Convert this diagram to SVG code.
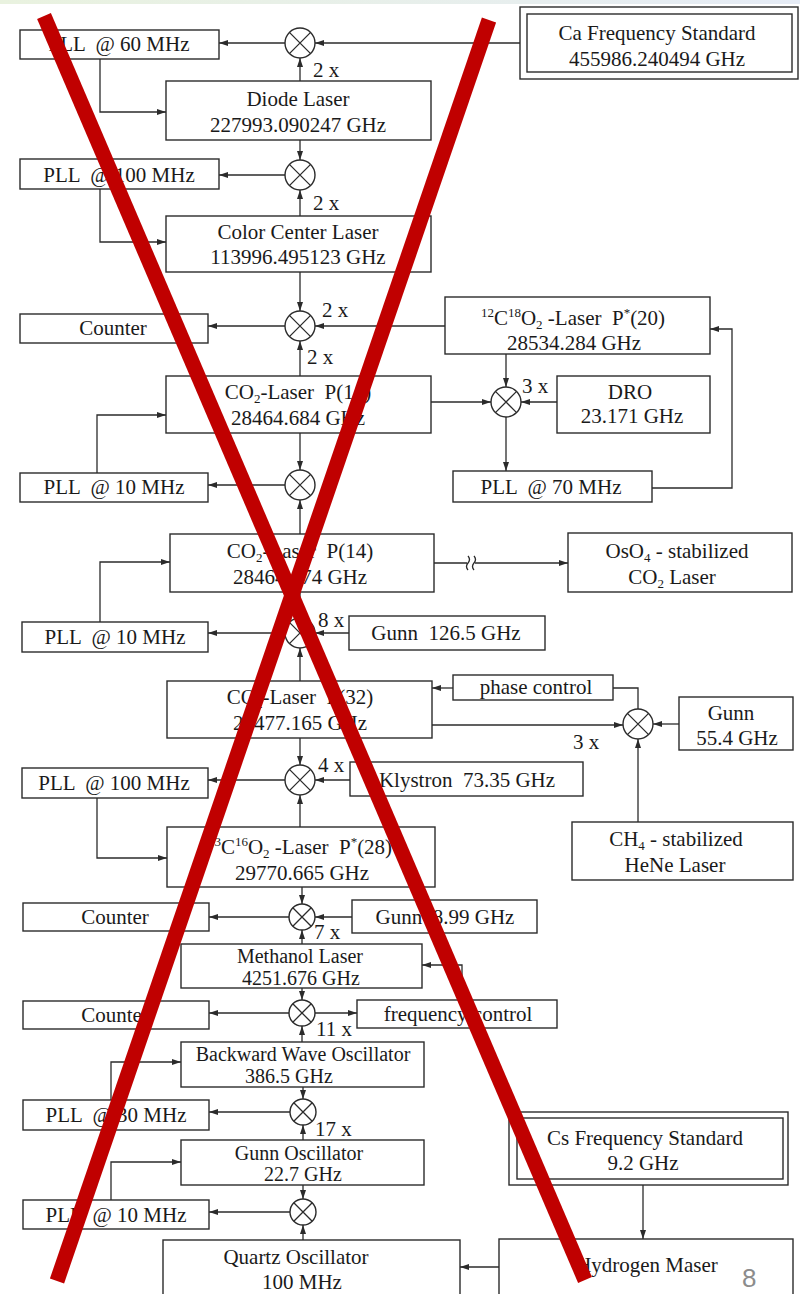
<svg xmlns="http://www.w3.org/2000/svg" width="800" height="1294" viewBox="0 0 800 1294" xml:space="preserve">
<style>
.box{fill:#fff;stroke:#2b2b2b;stroke-width:1.4}
.ln{fill:none;stroke:#2b2b2b;stroke-width:1.3}
.arr{marker-end:url(#ah)}
text{font-family:"Liberation Serif","Times New Roman",serif;font-size:21px;fill:#1a1a1a;white-space:pre}
.t{text-anchor:middle}
.c{font-size:20px}
.sm{font-size:13px}
.red{stroke:#c00000;stroke-width:15;fill:none}
.pg{font-family:"Liberation Sans","Noto Sans",sans-serif;font-size:26px;fill:#8c8c8c}
</style>
<defs>
<marker id="ah" markerUnits="userSpaceOnUse" markerWidth="9" markerHeight="6" refX="9" refY="3" orient="auto">
<path d="M0,0 L9,3 L0,6 z" fill="#2b2b2b"/>
</marker>
<g id="mixL"><circle r="15" fill="#fff" stroke="#2b2b2b" stroke-width="1.4"/><path d="M-10.6,-10.6L10.6,10.6M10.6,-10.6L-10.6,10.6" stroke="#2b2b2b" stroke-width="1.3"/></g>
<g id="mixS"><circle r="13" fill="#fff" stroke="#2b2b2b" stroke-width="1.4"/><path d="M-9.2,-9.2L9.2,9.2M9.2,-9.2L-9.2,9.2" stroke="#2b2b2b" stroke-width="1.3"/></g>
<linearGradient id="topg" x1="0" x2="1" y1="0" y2="0"><stop offset="0" stop-color="#e9f2df"/><stop offset="1" stop-color="#e6ecf6"/></linearGradient>
</defs>
<rect width="800" height="1294" fill="#fff"/>
<rect width="800" height="4" fill="url(#topg)"/>

<g id="connectors">
<path class="ln arr" d="M520,43 H315"/>
<path class="ln arr" d="M285,43 H219"/>
<path class="ln arr" d="M300,81 V58"/>
<path class="ln arr" d="M100,59 V112 H166"/>
<path class="ln arr" d="M300,140 V160"/>
<path class="ln arr" d="M285,175 H219"/>
<path class="ln arr" d="M300,216 V190"/>
<path class="ln arr" d="M100,189 V242 H166"/>
<path class="ln arr" d="M300,272 V311"/>
<path class="ln arr" d="M445,326 H315"/>
<path class="ln arr" d="M285,326 H208"/>
<path class="ln arr" d="M300,376 V341"/>
<path class="ln arr" d="M97,473 V415 H166"/>
<path class="ln arr" d="M300,433 V470"/>
<path class="ln arr" d="M285,485 H208"/>
<path class="ln arr" d="M300,534 V500"/>
<path class="ln arr" d="M431,402 H491"/>
<path class="ln arr" d="M506,354 V387"/>
<path class="ln arr" d="M557,402 H521"/>
<path class="ln arr" d="M506,417 V471"/>
<path class="ln arr" d="M652,488 H732 V329 H710"/>
<path class="ln" d="M434,563 H467 M468,556 q3,3.5 0,7 q-3,3.5 0,7 M474,556 q3,3.5 0,7 q-3,3.5 0,7"/>
<path class="ln arr" d="M475,563 H568"/>
<path class="ln arr" d="M100,622 V562 H170"/>
<path class="ln arr" d="M300,592 V618"/>
<path class="ln arr" d="M285,633 H208"/>
<path class="ln arr" d="M349,633 H315"/>
<path class="ln arr" d="M300,681 V648"/>
<path class="ln arr" d="M453,688 H432"/>
<path class="ln" d="M638,709 V688 H613"/>
<path class="ln arr" d="M432,725 H623"/>
<path class="ln arr" d="M679,724 H653"/>
<path class="ln arr" d="M638,822 V739"/>
<path class="ln arr" d="M300,738 V765"/>
<path class="ln arr" d="M350,780 H315"/>
<path class="ln arr" d="M285,780 H208"/>
<path class="ln arr" d="M97,798 V858 H167"/>
<path class="ln arr" d="M300,827 V795"/>
<path class="ln arr" d="M302,887 V904"/>
<path class="ln arr" d="M289,917 H209"/>
<path class="ln arr" d="M352,917 H315"/>
<path class="ln arr" d="M302,944 V930"/>
<path class="ln arr" d="M462,977 V965 H422"/>
<path class="ln arr" d="M302,988 V1000"/>
<path class="ln arr" d="M289,1013 H209"/>
<path class="ln arr" d="M315,1013 H357"/>
<path class="ln arr" d="M302,1042 V1026"/>
<path class="ln arr" d="M111,1100 V1062 H181"/>
<path class="ln arr" d="M303,1087 V1099"/>
<path class="ln arr" d="M290,1112 H209"/>
<path class="ln arr" d="M303,1140 V1125"/>
<path class="ln arr" d="M111,1200 V1162 H181"/>
<path class="ln arr" d="M303,1185 V1199"/>
<path class="ln arr" d="M290,1212 H209"/>
<path class="ln arr" d="M303,1240 V1225"/>
<path class="ln arr" d="M643,1185 V1239"/>
<path class="ln arr" d="M499,1267 H460"/>
</g>

<g id="labels">
<text x="313" y="77">2 x</text>
<text x="313" y="210">2 x</text>
<text x="322" y="317">2 x</text>
<text x="307" y="364">2 x</text>
<text x="522" y="393">3 x</text>
<text x="318" y="627">8 x</text>
<text x="573" y="749">3 x</text>
<text x="318" y="772">4 x</text>
<text x="314" y="939">7 x</text>
<text x="316" y="1036">11 x</text>
<text x="315" y="1136">17 x</text>
</g>

<g id="ca-standard"><rect class="box" x="520" y="7" width="278" height="72"/><rect class="box" x="527" y="14" width="265" height="58"/><text class="t" x="657" y="40">Ca Frequency Standard</text><text class="t" x="657" y="66">455986.240494 GHz</text></g>
<g id="mixer1"><use href="#mixL" x="300" y="43"/></g>
<g id="pll-60"><rect class="box" x="20" y="30" width="199" height="29"/><text class="t" x="119" y="51">PLL  @ 60 MHz</text></g>
<g id="diode-laser"><rect class="box" x="166" y="81" width="265" height="59"/><text class="t" x="298" y="106">Diode Laser</text><text class="t" x="298" y="132">227993.090247 GHz</text></g>
<g id="mixer2"><use href="#mixL" x="300" y="175"/></g>
<g id="pll-100a"><rect class="box" x="20" y="159" width="199" height="30"/><text class="t" x="119" y="182">PLL  @ 100 MHz</text></g>
<g id="color-center"><rect class="box" x="166" y="216" width="265" height="56"/><text class="t" x="298" y="239">Color Center Laser</text><text class="t" x="298" y="264">113996.495123 GHz</text></g>
<g id="mixer3"><use href="#mixL" x="300" y="326"/></g>
<g id="counter1"><rect class="box" x="20" y="314" width="188" height="29"/><text class="t" x="113" y="335">Counter</text></g>
<g id="co2-a"><rect class="box" x="166" y="376" width="265" height="57"/><text class="t" x="298" y="399">CO<tspan class="sm" dy="4">2</tspan><tspan dy="-4">-Laser  P(14)</tspan></text><text class="t" x="298" y="425">28464.684 GHz</text></g>
<g id="pll-10a"><rect class="box" x="20" y="473" width="188" height="29"/><text class="t" x="114" y="494">PLL  @ 10 MHz</text></g>
<g id="mixer4"><use href="#mixL" x="300" y="485"/></g>
<g id="c12o18-laser"><rect class="box" x="445" y="297" width="265" height="57"/><text class="t" x="573" y="325"><tspan class="sm" dy="-8">12</tspan><tspan dy="8">C</tspan><tspan class="sm" dy="-8">18</tspan><tspan dy="8">O</tspan><tspan class="sm" dy="4">2</tspan><tspan dy="-4"> -Laser  P</tspan><tspan class="sm" dy="-8">*</tspan><tspan dy="8">(20)</tspan></text><text class="t" x="574" y="350">28534.284 GHz</text></g>
<g id="mixer5"><use href="#mixL" x="506" y="402"/></g>
<g id="dro"><rect class="box" x="557" y="376" width="153" height="57"/><text class="t" x="630" y="399">DRO</text><text class="t" x="632" y="423">23.171 GHz</text></g>
<g id="pll-70"><rect class="box" x="453" y="471" width="199" height="31"/><text class="t" x="551" y="494">PLL  @ 70 MHz</text></g>
<g id="co2-b"><rect class="box" x="170" y="534" width="264" height="58"/><text class="t" x="300" y="558">CO<tspan class="sm" dy="4">2</tspan><tspan dy="-4">-Laser  P(14)</tspan></text><text class="t" x="300" y="584">28464.674 GHz</text></g>
<g id="oso4"><rect class="box" x="568" y="533" width="224" height="59"/><text class="t" x="677" y="558">OsO<tspan class="sm" dy="4">4</tspan><tspan dy="-4"> - stabilized</tspan></text><text class="t" x="672" y="584">CO<tspan class="sm" dy="4">2</tspan><tspan dy="-4"> Laser</tspan></text></g>
<g id="pll-10b"><rect class="box" x="22" y="622" width="186" height="30"/><text class="t" x="115" y="644">PLL  @ 10 MHz</text></g>
<g id="mixer6"><use href="#mixL" x="300" y="633"/></g>
<g id="gunn-126"><rect class="box" x="349" y="616" width="196" height="34"/><text class="t" x="446" y="640">Gunn  126.5 GHz</text></g>
<g id="co2-p32"><rect class="box" x="167" y="681" width="265" height="57"/><text class="t" x="300" y="704">CO<tspan class="sm" dy="4">2</tspan><tspan dy="-4">-Laser  P(32)</tspan></text><text class="t" x="300" y="730">29477.165 GHz</text></g>
<g id="phase-control"><rect class="box" x="453" y="675" width="160" height="25"/><text class="t" x="536" y="694">phase control</text></g>
<g id="mixer7"><use href="#mixL" x="638" y="724"/></g>
<g id="gunn-55"><rect class="box" x="679" y="697" width="114" height="53"/><text class="t" x="731" y="720">Gunn</text><text class="t" x="737" y="745">55.4 GHz</text></g>
<g id="ch4-hene"><rect class="box" x="572" y="822" width="221" height="58"/><text class="t" x="676" y="846">CH<tspan class="sm" dy="4">4</tspan><tspan dy="-4"> - stabilized</tspan></text><text class="t" x="675" y="872">HeNe Laser</text></g>
<g id="mixer8"><use href="#mixL" x="300" y="780"/></g>
<g id="klystron"><rect class="box" x="350" y="762" width="233" height="34"/><text class="t" x="467" y="787">Klystron  73.35 GHz</text></g>
<g id="pll-100b"><rect class="box" x="22" y="768" width="186" height="30"/><text class="t" x="114" y="790">PLL  @ 100 MHz</text></g>
<g id="c13o16-laser"><rect class="box" x="167" y="827" width="268" height="60"/><text class="t" x="300" y="854"><tspan class="sm" dy="-8">13</tspan><tspan dy="8">C</tspan><tspan class="sm" dy="-8">16</tspan><tspan dy="8">O</tspan><tspan class="sm" dy="4">2</tspan><tspan dy="-4"> -Laser  P</tspan><tspan class="sm" dy="-8">*</tspan><tspan dy="8">(28)</tspan></text><text class="t" x="302" y="880">29770.665 GHz</text></g>
<g id="mixer9"><use href="#mixS" x="302" y="917"/></g>
<g id="counter2"><rect class="box" x="23" y="903" width="186" height="28"/><text class="t" x="115" y="924">Counter</text></g>
<g id="gunn-899"><rect class="box" x="352" y="900" width="185" height="33"/><text class="t" x="445" y="924">Gunn  8.99 GHz</text></g>
<g id="methanol"><rect class="box" x="181" y="944" width="241" height="44"/><text class="t c" x="300" y="963">Methanol Laser</text><text class="t c" x="301" y="985">4251.676 GHz</text></g>
<g id="mixer10"><use href="#mixS" x="302" y="1013"/></g>
<g id="counter3"><rect class="box" x="23" y="1001" width="186" height="28"/><text class="t" x="115" y="1022">Counter</text></g>
<g id="frequency-control"><rect class="box" x="357" y="1000" width="200" height="28"/><text class="t" x="458" y="1021">frequency control</text></g>
<g id="bwo"><rect class="box" x="181" y="1042" width="243" height="45"/><text class="t c" x="303" y="1061">Backward Wave Oscillator</text><text class="t c" x="289" y="1083">386.5 GHz</text></g>
<g id="mixer11"><use href="#mixS" x="303" y="1112"/></g>
<g id="pll-30"><rect class="box" x="23" y="1100" width="186" height="30"/><text class="t" x="116" y="1122">PLL  @ 30 MHz</text></g>
<g id="gunn-osc"><rect class="box" x="181" y="1140" width="243" height="45"/><text class="t c" x="299" y="1160">Gunn Oscillator</text><text class="t c" x="303" y="1181">22.7 GHz</text></g>
<g id="pll-10c"><rect class="box" x="23" y="1200" width="186" height="29"/><text class="t" x="116" y="1222">PLL  @ 10 MHz</text></g>
<g id="mixer12"><use href="#mixS" x="303" y="1212"/></g>
<g id="quartz"><rect class="box" x="163" y="1240" width="297" height="62"/><text class="t" x="296" y="1264">Quartz Oscillator</text><text class="t" x="302" y="1289">100 MHz</text></g>
<g id="cs-standard"><rect class="box" x="509" y="1112" width="279" height="73"/><rect class="box" x="517" y="1118" width="266" height="61"/><text class="t" x="645" y="1145">Cs Frequency Standard</text><text class="t" x="643" y="1170">9.2 GHz</text></g>
<g id="hydrogen-maser"><rect class="box" x="499" y="1239" width="294" height="63"/><text class="t" x="647" y="1272">Hydrogen Maser</text></g>

<g id="cross">
<line class="red" x1="44" y1="16" x2="585" y2="1280"/>
<line class="red" x1="489" y1="20" x2="57" y2="1281"/>
</g>
<text class="pg" x="742" y="1287">8</text>
</svg>
